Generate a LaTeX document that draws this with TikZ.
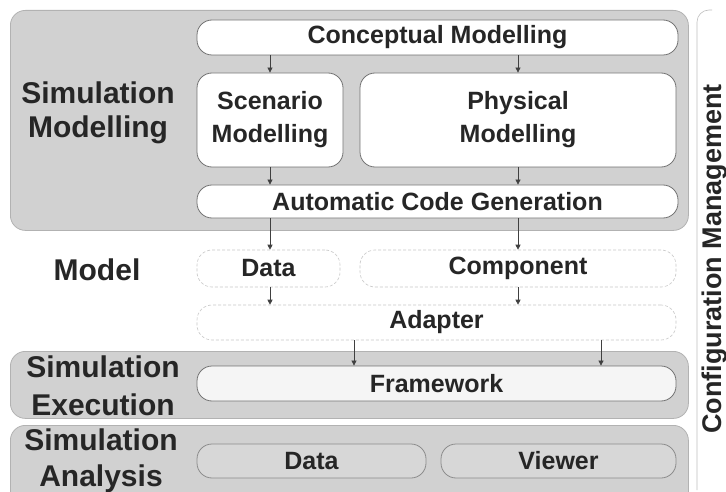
\documentclass[tikz,border=0pt]{standalone}
\usepackage{fontspec}
\setmainfont{Liberation Sans}
\usetikzlibrary{arrows.meta}

\definecolor{ink}{HTML}{262626}
\definecolor{panelgray}{HTML}{D1D1D1}
\definecolor{cellgray}{HTML}{D7D7D7}

\newcommand\boxfont{\fontsize{25}{33}\selectfont\bfseries}
\newcommand\sidefont{\fontsize{27}{30}\selectfont\bfseries}

\begin{document}
\begin{tikzpicture}[x=1pt,y=-1pt,
  panel/.style={draw=black!30, fill=panelgray, rounded corners=15pt,
    line width=0.8pt, inner sep=0pt, anchor=north west},
  box/.style={draw=black!55, fill=white, rounded corners=15pt,
    line width=0.8pt, inner sep=0pt, font=\boxfont, text=ink, align=center},
  ghost/.style={box, draw=black!22, dash pattern=on 3pt off 2pt, line width=0.6pt},
  cell/.style={box, fill=cellgray, draw=black!45},
  lbl/.style={text=ink, align=center, anchor=base, inner sep=0pt},
  arr/.style={draw=black!75, line width=0.7pt, -{Triangle[length=5pt,width=5pt]}},
]
\clip (0,0) rectangle (726,492);
\useasboundingbox (0,0) rectangle (726,492);
\fill[white] (0,0) rectangle (726,492);

% layer panels
\node[panel, minimum width=678pt, minimum height=220pt] (pmod) at (10,10) {};
\node[panel, minimum width=678pt, minimum height=67pt]  (pexe) at (10,351) {};
\node[panel, minimum width=678pt, minimum height=85pt]  (pana) at (10,425) {};

% layer titles (base anchor sits on the last line)
\node[lbl, font=\fontsize{30}{34}\selectfont\bfseries] (tmod) at (98,138) {Simulation\\Modelling};
\node[lbl, font=\fontsize{30}{34}\selectfont\bfseries] (tmodel) at (97,280) {Model};
\node[lbl, font=\fontsize{30}{38}\selectfont\bfseries] (texe) at (103,415) {Simulation\\Execution};
\node[lbl, font=\fontsize{30}{36}\selectfont\bfseries] (tana) at (101,486) {Simulation\\Analysis};

% simulation modelling
\node[box, minimum width=481pt, minimum height=35pt] (concept) at (437.5,37.5) {Conceptual Modelling};
\node[box, minimum width=146pt, minimum height=94pt] (scen) at (270,120) {Scenario\\Modelling};
\node[box, minimum width=316pt, minimum height=94pt] (phys) at (518,120) {Physical\\Modelling};
\node[box, minimum width=481pt, minimum height=33pt] (acg) at (437.5,201.5) {Automatic Code Generation};

% model
\node[ghost, minimum width=143pt, minimum height=37pt] (mdata) at (268.5,268.5) {Data};
\node[ghost, minimum width=316pt, minimum height=37pt] (comp) at (518,268.5) {Component};
\node[ghost, minimum width=479pt, minimum height=35pt] (adapter) at (436.5,322.5) {Adapter};

% simulation execution
\node[box, fill=white!96!black, minimum width=479pt, minimum height=35pt] (frame) at (436.5,383.5) {Framework};

% simulation analysis
\node[cell, minimum width=229pt, minimum height=34pt] (adata) at (311.5,461) {Data};
\node[cell, minimum width=235pt, minimum height=34pt] (viewer) at (558.5,461) {Viewer};

% configuration management
\draw[black!25, line width=0.6pt, rounded corners=12pt] (712,10) -- (697,10) -- (697,490);
\node[text=ink, font=\sidefont, rotate=90, anchor=base, inner sep=0pt] (cfg) at (721,259) {Configuration Management};

% flow between the steps
\draw[arr] (concept.south -| scen) -- (scen.north);
\draw[arr] (concept.south -| phys) -- (phys.north);
\draw[arr] (scen.south) -- (acg.north -| scen);
\draw[arr] (phys.south) -- (acg.north -| phys);
\draw[arr] (acg.south -| scen) -- (mdata.north -| scen);
\draw[arr] (acg.south -| phys) -- (comp.north);
\draw[arr] (mdata.south -| scen) -- (adapter.north -| scen);
\draw[arr] (comp.south) -- (adapter.north -| comp);
\coordinate (fa) at (354,0);
\coordinate (fb) at (601,0);
\draw[arr] (adapter.south -| fa) -- (frame.north -| fa);
\draw[arr] (adapter.south -| fb) -- (frame.north -| fb);
\end{tikzpicture}
\end{document}
